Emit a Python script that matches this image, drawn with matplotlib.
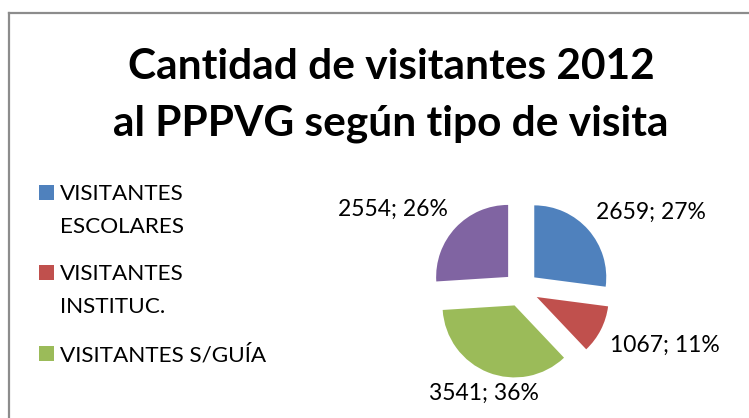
import matplotlib.pyplot as plt
from matplotlib.patches import Rectangle
import numpy as np

plt.rcParams['font.family'] = ['Lato', 'DejaVu Sans']

# data
categories = ['VISITANTES\nESCOLARES', 'VISITANTES\nINSTITUC.', 'VISITANTES S/GUÍA', 'OTROS']
visitors = [2659, 1067, 3541, 2554]
colors = ['#4f81bd', '#c0504d', '#9bbb59', '#8064a2']
title_lines = ['Cantidad de visitantes 2012', 'al PPPVG según tipo de visita']

W, H = 749, 418
fig = plt.figure(figsize=(W / 100, H / 100), dpi=100)

# chart frame (only left and top edges visible)
fig.add_artist(plt.Line2D([8.5 / W, 8.5 / W], [0, 1 - 12.5 / H], color='#8c8c8c', lw=1.6))
fig.add_artist(plt.Line2D([8.5 / W, 1], [1 - 12.5 / H, 1 - 12.5 / H], color='#8c8c8c', lw=1.6))

# title
for i, line in enumerate(title_lines):
    fig.text(391 / W, 1 - (79 + 56 * i) / H, line, ha='center', va='baseline',
             fontsize=30.5, fontweight='bold', color='black')

# pie: 72 px per data unit, centred at (521, 289)
cx, cy, r = 521, 289, 72
ax = fig.add_axes([(cx - 2 * r) / W, (H - cy - 2 * r) / H, 4 * r / W, 4 * r / H])
explode = [0.245] * len(visitors)
wedges, _ = ax.pie(visitors, colors=colors, explode=explode, startangle=90,
                   counterclock=False, radius=1, wedgeprops=dict(linewidth=0))
ax.set_xlim(-2, 2)
ax.set_ylim(-2, 2)
ax.set_aspect('equal')
ax.axis('off')

total = sum(visitors)
for w, v, ex in zip(wedges, visitors, explode):
    ang = np.deg2rad((w.theta1 + w.theta2) / 2)
    dx, dy = np.cos(ang), np.sin(ang)
    d = ex + 1.15
    ha = 'center' if abs(dx) < 0.5 else ('left' if dx > 0 else 'right')
    va = 'bottom' if dy > 0 else 'top'
    ax.text(d * dx, d * dy, f'{v}; {round(100 * v / total)}%', ha=ha, va=va,
            fontsize=16.5, color='black')

# legend (first three entries visible)
y_first = [200, 280, 361]
for lab, col, yb in zip(categories[:3], colors[:3], y_first):
    fig.add_artist(Rectangle((39 / W, 1 - yb / H), 15 / W, 15 / H, color=col, lw=0))
    for j, part in enumerate(lab.split('\n')):
        fig.text(60 / W, 1 - (yb + 33 * j) / H, part, ha='left', va='baseline',
                 fontsize=16.2, color='black')

fig.savefig('out.png', dpi=100)
